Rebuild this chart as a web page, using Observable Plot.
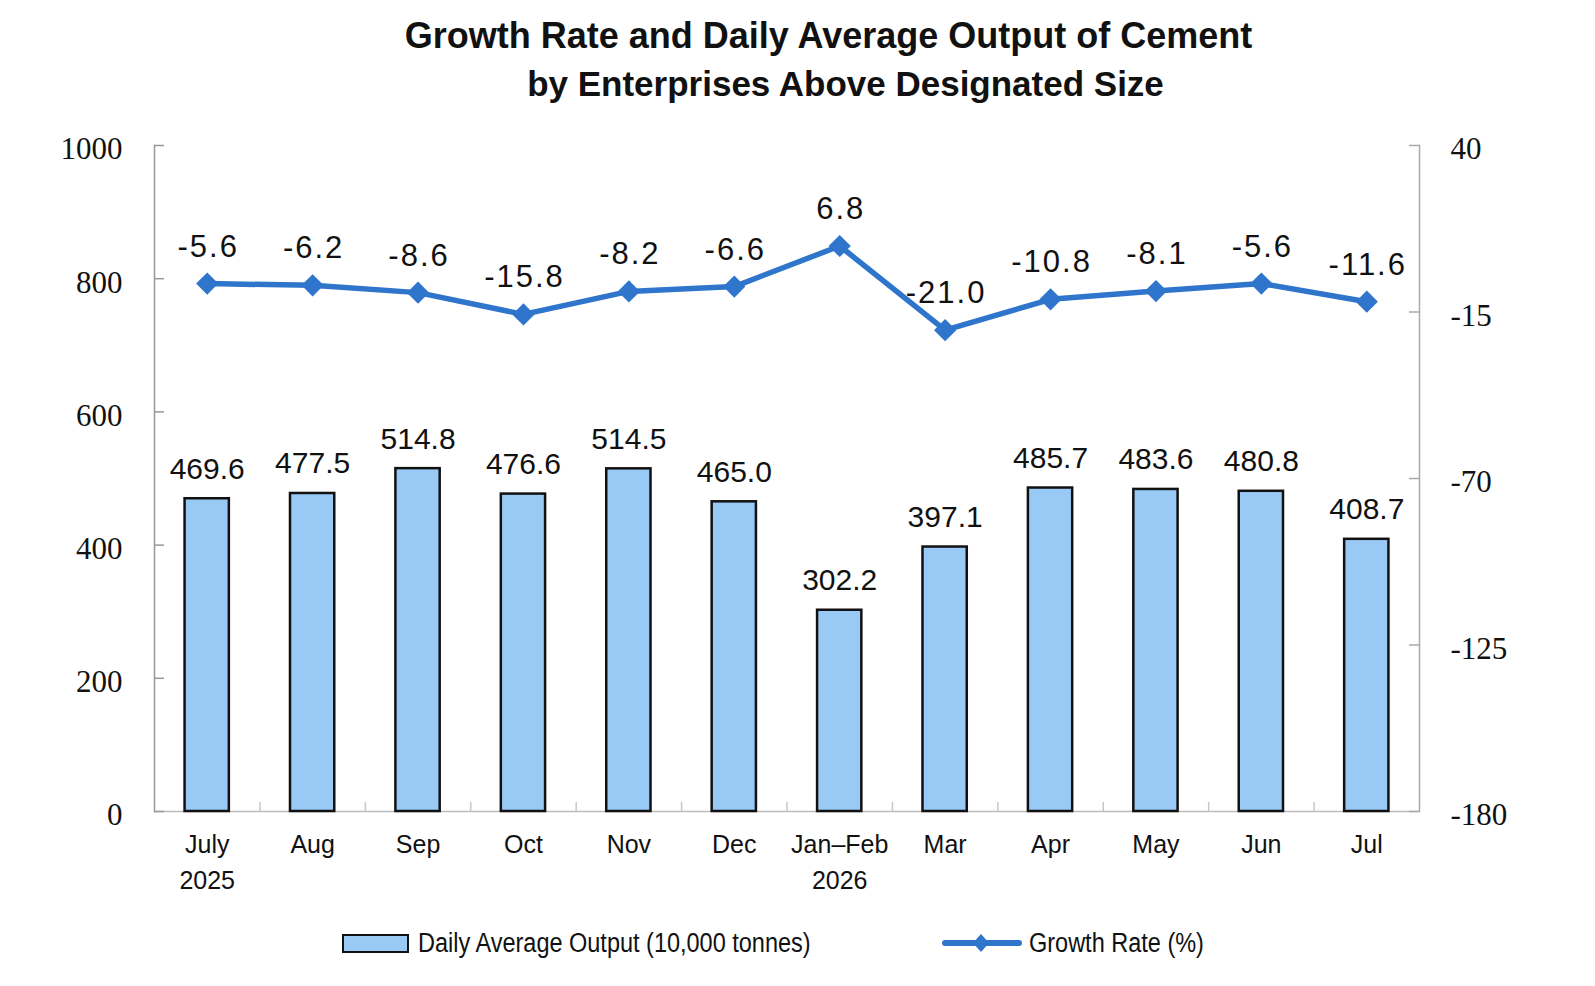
<!DOCTYPE html>
<html>
<head>
<meta charset="utf-8">
<script src="https://cdn.jsdelivr.net/npm/d3@7"></script>
<script src="https://cdn.jsdelivr.net/npm/@observablehq/plot@0.6"></script>
<style>
  body { margin: 0; background: #fff; }
  #page { position: relative; width: 1595px; height: 986px; overflow: hidden; background: #fff;
          font-family: "Liberation Sans", Arial, sans-serif; color: #111; }
  .title { position: absolute; left: 0; width: 1595px; text-align: center; font-weight: bold;
           white-space: nowrap; line-height: 1; color: #111; }
  #chart { position: absolute; left: 0; top: 110px; }
  .legtext { position: absolute; top: 930px; font-size: 27px; line-height: 27px; white-space: nowrap;
             transform: scaleX(0.87); transform-origin: left center; color: #111; }
  .swatch { position: absolute; left: 342px; top: 934px; width: 67px; height: 19px; box-sizing: border-box;
            background: #99c9f5; border: 2.5px solid #111; }
  #legline { position: absolute; left: 930px; top: 925px; }
</style>
</head>
<body>
<div id="page">
  <div class="title" style="top:17.5px; font-size:36px; left:31px;">Growth Rate and Daily Average Output of Cement</div>
  <div class="title" style="top:65.5px; font-size:35px; left:48px;">by Enterprises Above Designated Size</div>
  <div id="chart"></div>
  <div class="swatch"></div>
  <div class="legtext" style="left:418px;">Daily Average Output (10,000 tonnes)</div>
  <svg id="legline" width="100" height="36"></svg>
  <div class="legtext" style="left:1029px;">Growth Rate (%)</div>
</div>
<script>
// ---- data ----
const categories = ["July 2025", "Aug", "Sep", "Oct", "Nov", "Dec", "Jan–Feb 2026", "Mar", "Apr", "May", "Jun", "Jul"];
const tickLabels = ["July\n2025", "Aug", "Sep", "Oct", "Nov", "Dec", "Jan–Feb\n2026", "Mar", "Apr", "May", "Jun", "Jul"];
const output = [469.6, 477.5, 514.8, 476.6, 514.5, 465.0, 302.2, 397.1, 485.7, 483.6, 480.8, 408.7];
const growth = [-5.6, -6.2, -8.6, -15.8, -8.2, -6.6, 6.8, -21.0, -10.8, -8.1, -5.6, -11.6];
const leftTicks = [0, 200, 400, 600, 800, 1000];
const rightTicks = [40, -15, -70, -125, -180];
const leftDomain = [0, 1000];
const rightDomain = [-180, 40];

// ---- styles ----
const barFill = "#99c9f5";
const lineColor = "#2e75cb";
const W = 1595, H = 800, mL = 154, mR = 176, mT = 35, mB = 99;
const plotW = W - mL - mR, plotH = H - mT - mB;
const step = plotW / categories.length;
const barLabelSpacing = 0, lineLabelSpacing = 2;

const toLeft = g => (g - rightDomain[0]) / (rightDomain[1] - rightDomain[0]) * (leftDomain[1] - leftDomain[0]) + leftDomain[0];
const fromLeft = v => Math.round(rightDomain[0] + (v - leftDomain[0]) / (leftDomain[1] - leftDomain[0]) * (rightDomain[1] - rightDomain[0]));
const labelOf = Object.fromEntries(categories.map((c, i) => [c, tickLabels[i]]));
const rows = categories.map((c, i) => ({c, output: output[i], growth: growth[i], g: toLeft(growth[i])}));

const chart = Plot.plot({
  width: W, height: H,
  marginLeft: mL, marginRight: mR, marginTop: mT, marginBottom: mB,
  style: {fontFamily: "'Liberation Sans', Arial, sans-serif", background: "transparent", color: "#111", overflow: "visible"},
  x: {type: "band", domain: categories, paddingInner: 0.58, paddingOuter: 0.29, round: false},
  y: {domain: leftDomain},
  marks: [
    Plot.ruleY([0], {stroke: "#bdbdbd", strokeWidth: 1.5}),
    Plot.frame({anchor: "left", stroke: "#999", strokeWidth: 1.5}),
    Plot.frame({anchor: "right", stroke: "#aaa", strokeWidth: 1.5}),
    Plot.ruleY(leftTicks, {stroke: "#999", strokeWidth: 1.5, insetRight: plotW - 10}),
    Plot.ruleY(rightTicks.map(toLeft), {stroke: "#aaa", strokeWidth: 1.5, insetLeft: plotW - 10}),
    Plot.ruleX(categories.slice(1), {stroke: "#c8c8c8", strokeWidth: 1.5, dx: -step / 2, insetTop: plotH - 9}),
    Plot.axisY(leftTicks, {anchor: "left", tickSize: 0, tickPadding: 32, fontSize: 31,
      fontFamily: "'Liberation Serif', 'Times New Roman', serif", dy: 4, label: null, tickFormat: d => String(d)}),
    Plot.axisY(rightTicks.map(toLeft), {anchor: "right", tickSize: 0, tickPadding: 31, fontSize: 31,
      fontFamily: "'Liberation Serif', 'Times New Roman', serif", dy: 4, label: null, tickFormat: d => String(fromLeft(d))}),
    Plot.axisX({tickSize: 0, tickPadding: 16, fontSize: 25, lineHeight: 1.45, label: null, tickFormat: c => labelOf[c]}),
    Plot.barY(rows, {x: "c", y: "output", fill: barFill, stroke: "#111", strokeWidth: 2.5}),
    Plot.line(rows, {x: "c", y: "g", stroke: lineColor, strokeWidth: 5.5, strokeLinejoin: "miter"}),
    Plot.dot(rows, {x: "c", y: "g", symbol: "diamond2", r: 10, fill: lineColor, stroke: null}),
    Plot.text(rows, {x: "c", y: "output", text: d => d.output.toFixed(1), lineAnchor: "bottom",
      dy: -20, dx: barLabelSpacing / 2, fontSize: 30, fill: "#111"}),
    Plot.text(rows, {x: "c", y: "g", text: d => d.growth.toFixed(1), lineAnchor: "bottom",
      dy: -27, dx: lineLabelSpacing / 2, fontSize: 31, fill: "#111"})
  ]
});
const textGroups = chart.querySelectorAll('g[aria-label="text"]');
if (textGroups[0]) textGroups[0].style.letterSpacing = barLabelSpacing + "px";
if (textGroups[1]) textGroups[1].style.letterSpacing = lineLabelSpacing + "px";
document.getElementById("chart").appendChild(chart);

// legend line sample
const lg = d3.select("#legline");
lg.append("line").attr("x1", 15).attr("x2", 89).attr("y1", 18).attr("y2", 18)
  .attr("stroke", lineColor).attr("stroke-width", 6).attr("stroke-linecap", "round");
lg.append("path").attr("d", "M51,9 L59,18 L51,27 L43,18 Z").attr("fill", lineColor);
</script>
</body>
</html>
